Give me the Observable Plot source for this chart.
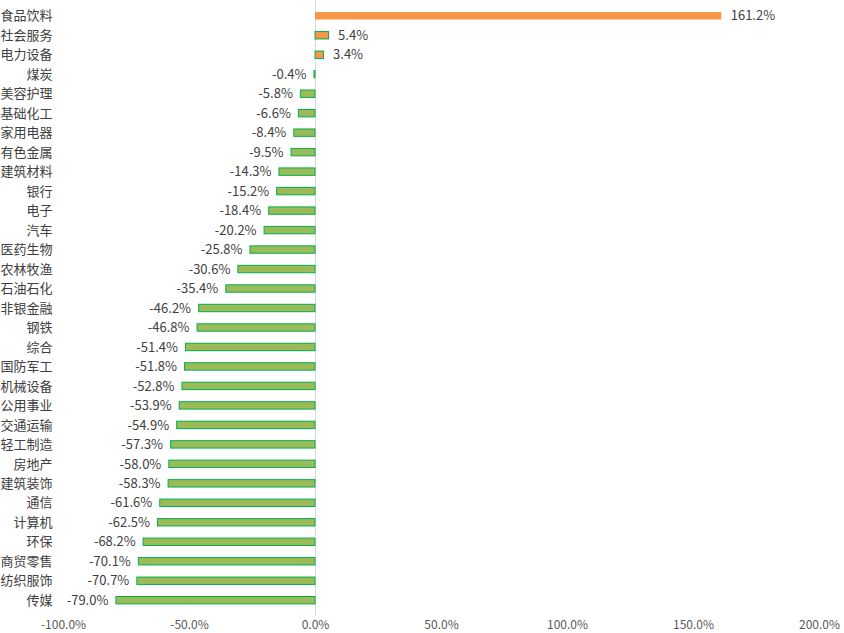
<!DOCTYPE html>
<html><head><meta charset="utf-8">
<script src="https://cdn.jsdelivr.net/npm/d3@7"></script>
<script src="https://cdn.jsdelivr.net/npm/@observablehq/plot@0.6"></script>
<style>body{margin:0;background:#fff;} svg{font-family:"Noto Sans CJK SC",sans-serif;}</style>
</head><body><div id="chart"></div>
<script>
const categories = ["食品饮料","社会服务","电力设备","煤炭","美容护理","基础化工","家用电器","有色金属","建筑材料","银行","电子","汽车","医药生物","农林牧渔","石油石化","非银金融","钢铁","综合","国防军工","机械设备","公用事业","交通运输","轻工制造","房地产","建筑装饰","通信","计算机","环保","商贸零售","纺织服饰","传媒"];
const values = [161.2,5.4,3.4,-0.4,-5.8,-6.6,-8.4,-9.5,-14.3,-15.2,-18.4,-20.2,-25.8,-30.6,-35.4,-46.2,-46.8,-51.4,-51.8,-52.8,-53.9,-54.9,-57.3,-58.0,-58.3,-61.6,-62.5,-68.2,-70.1,-70.7,-79.0];
const xTicks = [-100,-50,0,50,100,150,200];
const data = categories.map((c,i)=>({cat:c, v:values[i]}));
const fmt = v => v.toFixed(1) + "%";
const chart = Plot.plot({
  width: 844, height: 633,
  marginLeft: 63, marginRight: 25, marginTop: 0, marginBottom: 17,
  style: {fontSize: "13px", color: "#404040"},
  x: {domain: [-100,200], ticks: xTicks, tickFormat: fmt, label: null},
  y: {domain: categories, padding: 0.62, round: false, label: null},
  marks: [
    Plot.ruleX([0], {stroke: "#d9d9d9", strokeWidth: 1}),
    Plot.barX(data, {y: "cat", x: "v", fill: d => d.v >= 0 ? "#F79646" : "#9BBB59",
      stroke: d => d.v > 100 ? "none" : "#00B050", strokeWidth: 1}),
    Plot.text(data.filter(d=>d.v>=0), {y: "cat", x: "v", text: d => fmt(d.v), textAnchor: "start", dx: 9, fill: "#404040", fontSize: 13}),
    Plot.text(data.filter(d=>d.v<0), {y: "cat", x: "v", text: d => fmt(d.v), textAnchor: "end", dx: -8, fill: "#404040", fontSize: 13}),
    Plot.axisX({ticks: xTicks, tickFormat: fmt, tickSize: 0, tickPadding: 4, fontSize: 12, fill: "#595959"}),
    Plot.axisY({tickSize: 0, tickPadding: 11, fontSize: 13, fill: "#404040"})
  ]
});
document.getElementById("chart").appendChild(chart);
</script></body></html>
